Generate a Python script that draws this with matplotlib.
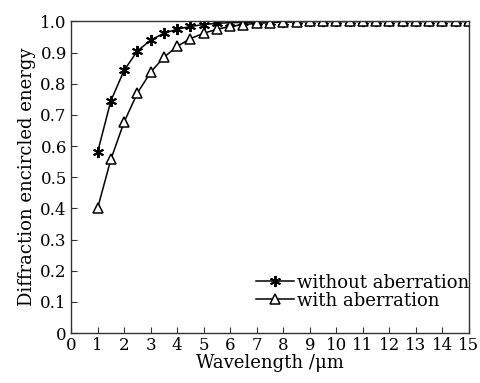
import matplotlib
matplotlib.use("Agg")
import matplotlib.pyplot as plt
import numpy as np

plt.rcParams['font.family'] = ['DejaVu Serif']
plt.rcParams['mathtext.fontset'] = 'dejavuserif'

wavelength = np.arange(1, 15.01, 0.5)
no_aberr = [0.58, 0.745, 0.843, 0.905, 0.94, 0.962, 0.975, 0.984, 0.99, 0.994,
            0.996, 0.997, 0.998, 0.999, 0.999, 1.0, 1.0, 1.0, 1.0, 1.0,
            1.0, 1.0, 1.0, 1.0, 1.0, 1.0, 1.0, 1.0, 1.0]
with_aberr = [0.40, 0.557, 0.677, 0.77, 0.837, 0.885, 0.92, 0.945, 0.962, 0.975,
              0.984, 0.99, 0.994, 0.996, 0.998, 0.999, 1.0, 1.0, 1.0, 1.0,
              1.0, 1.0, 1.0, 1.0, 1.0, 1.0, 1.0, 1.0, 1.0]

fig = plt.figure(figsize=(4.8, 3.83), dpi=100)
ax = fig.add_axes([0.148, 0.1305, 0.829, 0.8135])

ax.plot(wavelength, no_aberr, 'k-', lw=1.1, marker=(6, 2, 0), ms=8, mew=1.4,
        label='without aberration')
ax.plot(wavelength, with_aberr, 'k-', lw=1.1, marker='^', ms=6.5, mfc='white', mew=1.1,
        label='with aberration')

ax.set_xlim(0, 15)
ax.set_ylim(0, 1.0)
ax.set_xticks(np.arange(0, 16, 1))
ax.set_yticks(np.arange(0, 1.01, 0.1))
ax.set_yticklabels(['0'] + ['%.1f' % v for v in np.arange(0.1, 1.01, 0.1)])
ax.tick_params(direction='in', length=4, labelsize=12, top=False, right=False, pad=3,
               color='#333333')
for s in ax.spines.values():
    s.set_linewidth(1.0)
    s.set_color('#333333')

ax.set_xlabel('Wavelength /μm', fontsize=13, labelpad=0)
ax.set_ylabel('Diffraction encircled energy', fontsize=13, labelpad=3)

ax.legend(loc='lower right', bbox_to_anchor=(1.0, 0.075), frameon=False, fontsize=13,
          handlelength=2.1, handletextpad=0.15, labelspacing=0.0, borderpad=0.0,
          borderaxespad=0.0)

fig.savefig('out.png', dpi=100)
